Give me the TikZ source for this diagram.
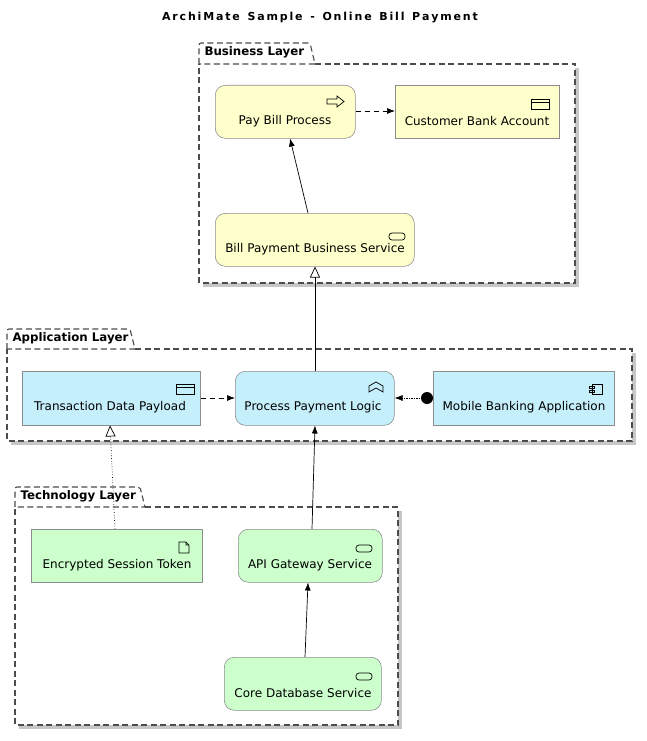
\documentclass[tikz,border=0pt]{standalone}
\usepackage{fontspec}
\setmainfont{DejaVu Sans}
\usetikzlibrary{arrows.meta}
\begin{document}
\begin{tikzpicture}[x=1pt,y=-1pt,
 fr/.style={draw=black!70,line width=1.1pt,dash pattern=on 6pt off 3.5pt},
 sh/.style={fill=black!22},
 el/.style={draw=black!45,line width=0.6pt},
 lb/.style={font=\fontsize{12}{14}\selectfont},
 bus/.style={el,fill=BusC},
 app/.style={el,fill=AppC},
 tec/.style={el,fill=TecC},
 rnd/.style={rounded corners=10pt},
 ic/.style={draw=black,line width=0.7pt},
 tab/.style={font=\bfseries\fontsize{11.8}{13}\selectfont},
 con/.style={line width=0.7pt},
 arr/.style={con,-{Latex[length=8pt,width=6pt]}},
 real/.style={con,-{Triangle[open,length=11pt,width=10pt,fill=white]}}]
\definecolor{BusC}{HTML}{FFFFCC}\definecolor{AppC}{HTML}{C6EFFC}\definecolor{TecC}{HTML}{CCFFCC}
\useasboundingbox (0,0) rectangle (647,741);
\node[font=\bfseries\fontsize{11}{13}\selectfont] (title) at (320,18) {A\,r\,c\,h\,i\,M\,a\,t\,e\ \ S\,a\,m\,p\,l\,e\ \ -\ \ O\,n\,l\,i\,n\,e\ \ B\,i\,l\,l\ \ P\,a\,y\,m\,e\,n\,t};
% frames
\newcommand\myframe[6]{%
 \fill[sh] (#1+4,#4+4) rectangle (#3+4,#5+4);
 \fill[white] (#1,#4) rectangle (#3,#5);
 \draw[fr] (#2+5,#4) -- (#3,#4) -- (#3,#5) -- (#1,#5) -- (#1,#4);
 \draw[fr] (#1,#4) -- (#1,#6+3) [rounded corners=2pt]-- (#1,#6) -- (#2,#6) [sharp corners]-- (#2+5,#4) -- (#1,#4);}
\myframe{199}{310}{575}{64}{283}{43}
\node[tab,anchor=west] (bl) at (201,52) {Business Layer};
\myframe{7}{130}{632}{349}{441}{329}
\node[tab,anchor=west] (al) at (9,338) {Application Layer};
\myframe{15}{140}{398}{507}{725}{487}
\node[tab,anchor=west] (tl) at (17,496) {Technology Layer};
% elements
\node[bus,rnd,minimum width=140pt,minimum height=53pt,anchor=north west] (pay) at (215,85) {};
\node[lb] at (285,121) {Pay Bill Process};
\node[bus,minimum width=164pt,minimum height=53pt,anchor=north west] (cba) at (395,85) {};
\node[lb] at (477,121) {Customer Bank Account};
\node[bus,rnd,minimum width=199pt,minimum height=53pt,anchor=north west] (bps) at (215,213) {};
\node[lb] at (315,249) {Bill Payment Business Service};
\node[app,minimum width=178pt,minimum height=54pt,anchor=north west] (tdp) at (22,371) {};
\node[lb] at (110,407) {Transaction Data Payload};
\node[app,rnd,minimum width=159pt,minimum height=54pt,anchor=north west] (ppl) at (235,371) {};
\node[lb] at (313,407) {Process Payment Logic};
\node[app,minimum width=181pt,minimum height=54pt,anchor=north west] (mba) at (433,371) {};
\node[lb] at (524,407) {Mobile Banking Application};
\node[tec,minimum width=171pt,minimum height=53pt,anchor=north west] (est) at (31,529) {};
\node[lb] at (117,565) {Encrypted Session Token};
\node[tec,rnd,minimum width=144pt,minimum height=53pt,anchor=north west] (api) at (238,529) {};
\node[lb] at (310,565) {API Gateway Service};
\node[tec,rnd,minimum width=157pt,minimum height=53pt,anchor=north west] (cds) at (224,657) {};
\node[lb] at (303,693) {Core Database Service};
% icons
\draw[ic] (327,99)--(337,99)--(337,96)--(344,101.5)--(337,107)--(337,104)--(327,104)--cycle;
\draw[ic] (531,99) rectangle (549,109) (531,102)--(549,102);
\draw[ic,rounded corners=3pt] (389,233) rectangle (405,240);
\draw[ic] (176,384) rectangle (194,394) (176,387)--(194,387);
\draw[ic] (369,392)--(369,386)--(376,382)--(383,386)--(383,392)--(376,388)--cycle;
\draw[ic] (592,384) rectangle (602,394) (589,386) rectangle (594,388) (589,390) rectangle (594,392);
\draw[ic] (179,542)--(186,542)--(189,545)--(189,553)--(179,553)--cycle (186,542)--(186,545)--(189,545);
\draw[ic,rounded corners=3pt] (356,545) rectangle (372,552);
\draw[ic,rounded corners=3pt] (356,673) rectangle (372,680);
% connectors
\draw[arr] (bps.north-|308,0) -- (290,138.5);
\draw[arr,dash pattern=on 5pt off 4pt] (pay.east|-0,111) -- (cba.west|-0,111);
\draw[real] (ppl.north-|315,0) -- (315,266.5);
\draw[arr,dash pattern=on 5pt off 4pt] (tdp.east|-0,398) -- (ppl.west|-0,398);
\draw[arr,dash pattern=on 2pt off 1pt on 1pt off 1pt] (mba.west|-0,398) -- (ppl.east|-0,398);
\fill (427,398) circle (6pt);
\draw[real,dotted] (est.north-|115,0) -- (110,425.5);
\draw[arr] (api.north-|312,0) -- (315,425.5);
\draw[arr] (cds.north-|305,0) -- (308,582.5);
\end{tikzpicture}
\end{document}
